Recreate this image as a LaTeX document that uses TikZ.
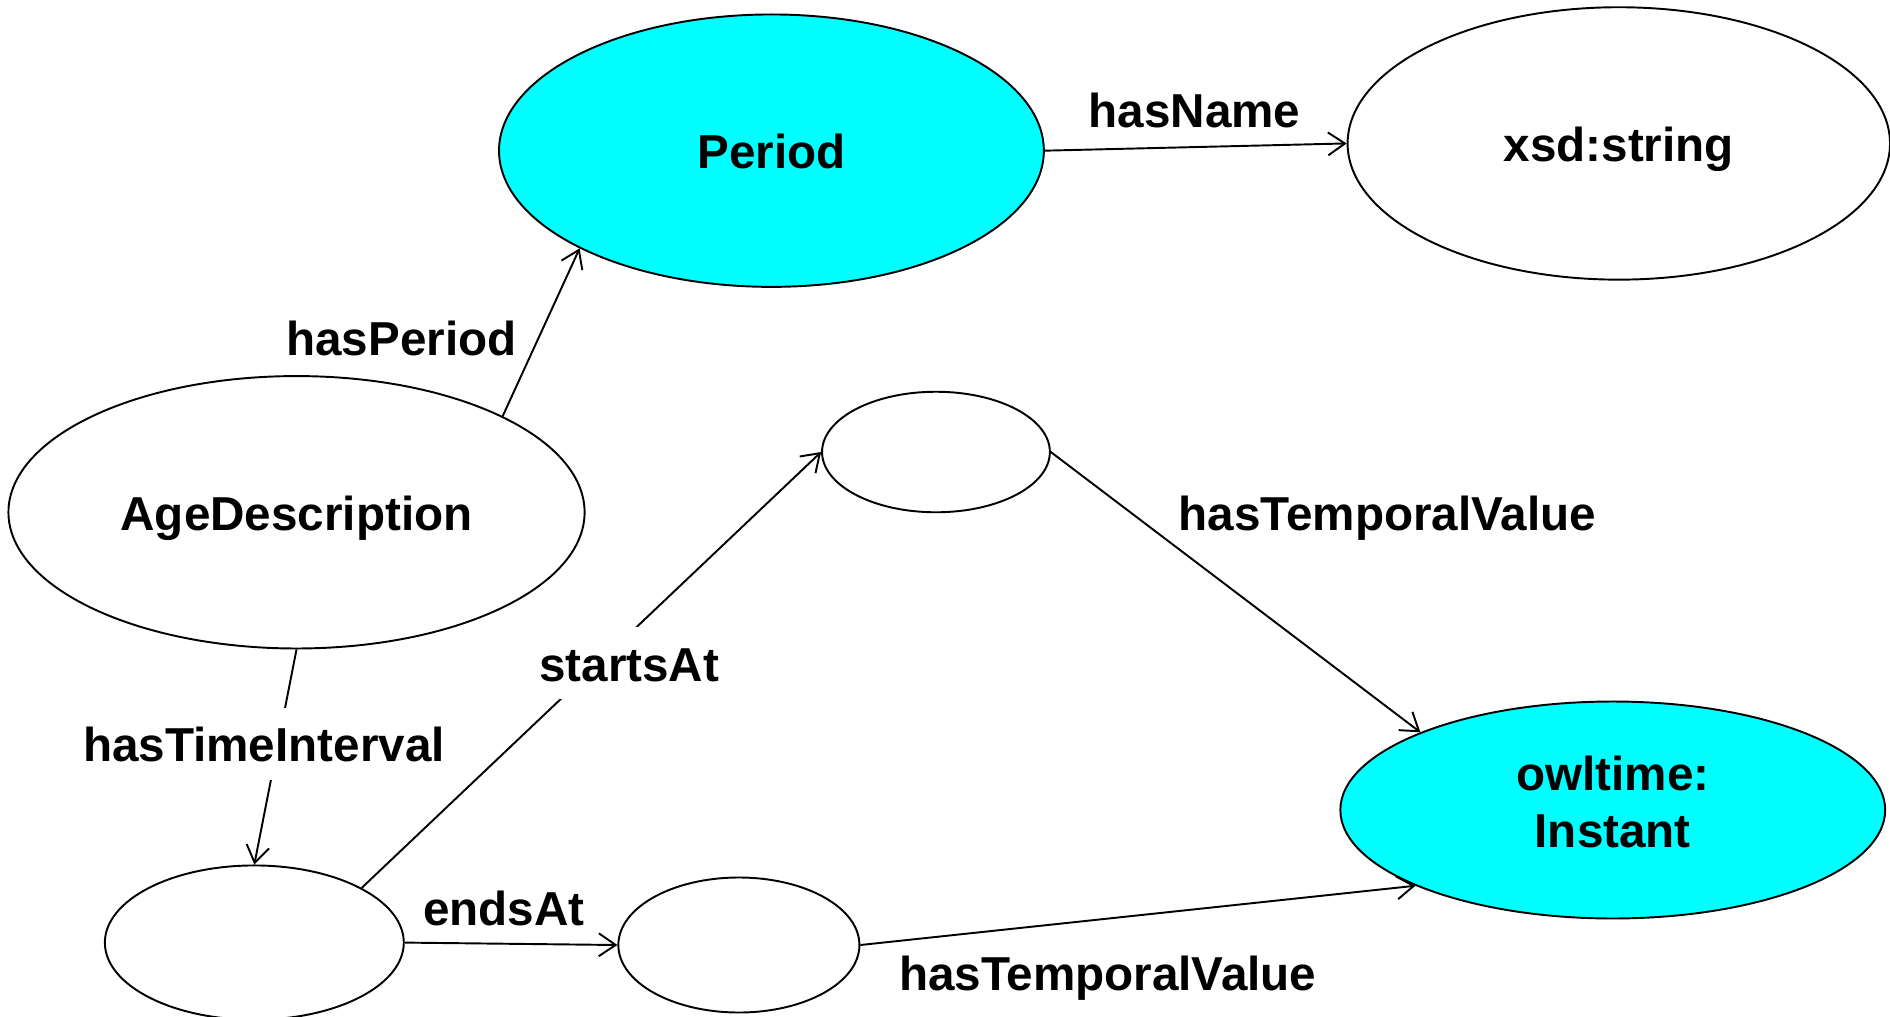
\documentclass[tikz,border=0pt]{standalone}
\usepackage{fontspec}
\setmainfont{Liberation Sans}
\usetikzlibrary{shapes.geometric,arrows.meta}
\definecolor{nodecyan}{HTML}{00FFFF}
\begin{document}
\begin{tikzpicture}[x=1pt,y=-1pt,
  every node/.style={font=\fontsize{39.5}{47}\selectfont\bfseries},
  txt/.style={text height=30pt,text depth=0pt},
  ell/.style={ellipse,draw=black,line width=1.6pt,fill=white,inner sep=0pt,txt},
  cls/.style={ell,fill=nodecyan},
  edge/.style={line width=1.6pt,-{Straight Barb[length=14pt,width=19pt,line width=1.6pt]}},
  lbl/.style={inner sep=2pt,txt},
  onlbl/.style={fill=white,inner xsep=4pt,inner ysep=15pt,txt}]
\useasboundingbox (0,0) rectangle (1568,843);
\node[cls,minimum width=452pt,minimum height=226pt] (period) at (640,125) {Period};
\node[ell,minimum width=450pt,minimum height=226pt] (xsd) at (1343,119) {xsd:string};
\node[ell,minimum width=478pt,minimum height=226pt] (age) at (246,425) {AgeDescription};
\node[ell,minimum width=189pt,minimum height=100pt] (ts) at (776.5,375) {};
\node[cls,minimum width=452pt,minimum height=180pt] (inst) at (1338,672) {};
\node[align=center] (insttext) at (1338,665.4) {owltime:\\Instant};
\node[ell,minimum width=248pt,minimum height=128pt] (bl) at (211,782) {};
\node[ell,minimum width=200pt,minimum height=112pt] (bm) at (613,784) {};
\draw[edge] (age.25) -- (period.207);
\draw[edge] (period.east) -- (xsd.west);
\draw[edge] (age.south) -- (bl.north);
\draw[edge] (bl.27) -- (ts.west);
\draw[edge] (bl.east) -- (bm.west);
\draw[edge] (ts.east) -- (inst.158);
\draw[edge] (bm.east) -- (inst.201);
\node[lbl] (lperiod) at (333,280) {hasPeriod};
\node[lbl] (lname) at (991,91) {hasName};
\node[onlbl] (linterval) at (219,617) {hasTimeInterval};
\node[onlbl] (lstarts) at (522,550) {startsAt};
\node[lbl] (lends) at (418,753) {endsAt};
\node[lbl] (ltv1) at (1151,425) {hasTemporalValue};
\node[lbl] (ltv2) at (919,807) {hasTemporalValue};
\end{tikzpicture}
\end{document}
